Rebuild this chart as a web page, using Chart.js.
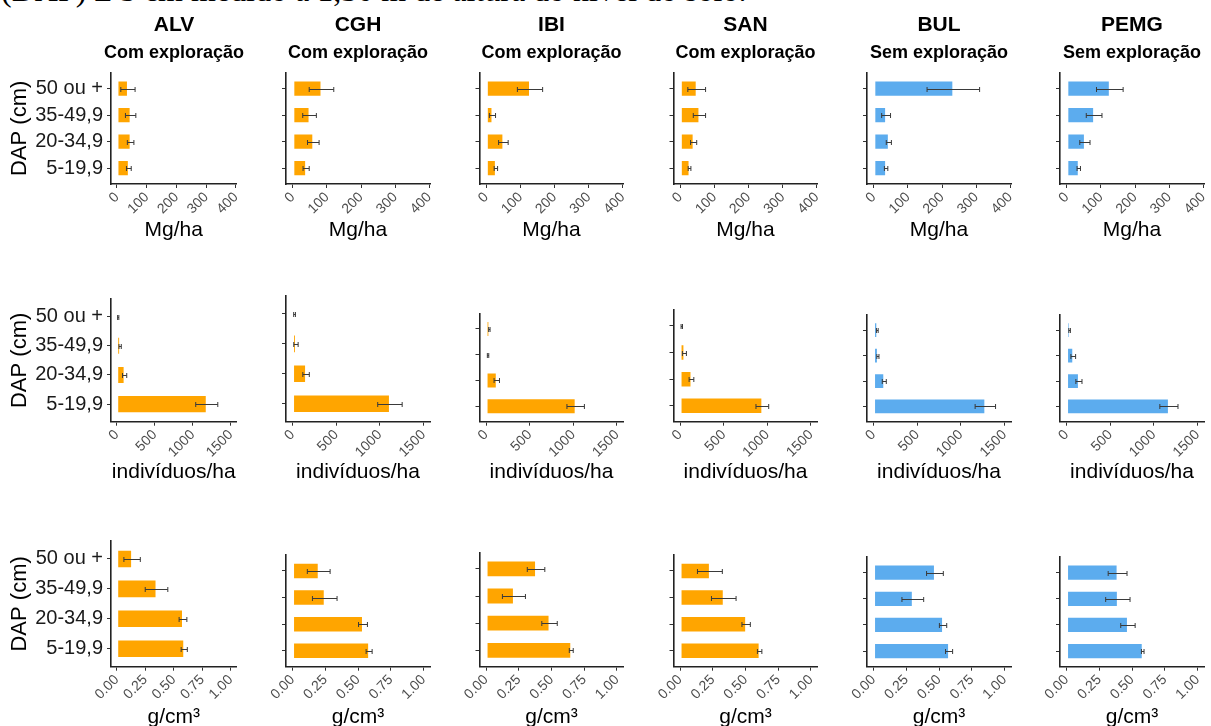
<!DOCTYPE html>
<html>
<head>
<meta charset="utf-8">
<script src="https://cdn.jsdelivr.net/npm/chart.js@4.4.1/dist/chart.umd.min.js"></script>
<style>
  html, body { margin: 0; padding: 0; background: #fff; }
  body { width: 1211px; height: 726px; position: relative; overflow: hidden; }
  #caption {
    position: absolute; left: 1px; top: -26px;
    font: 32px/32px "Liberation Serif", "Times New Roman", serif;
    color: #000; white-space: nowrap;
  }
  canvas { position: absolute; }
</style>
</head>
<body>
<div id="caption">(DAP) ≥ 5 cm medido a 1,30 m de altura do nível do solo.</div>
<script>
// Diameter classes (top to bottom) and study sites
const sizeClasses = ["50 ou +", "35-49,9", "20-34,9", "5-19,9"];
const sites = ["ALV", "CGH", "IBI", "SAN", "BUL", "PEMG"];
const management = ["Com exploração", "Com exploração", "Com exploração", "Com exploração", "Sem exploração", "Sem exploração"];

// Biomass (Mg/ha): mean and standard error per site, per diameter class
const biomassMean = [
  [37, 46, 46, 40],
  [84, 49, 60, 39],
  [128, 18, 50, 28],
  [48, 56, 39, 27],
  [233, 36, 44, 36],
  [126, 80, 53, 35]
];
const biomassSE = [
  [24, 17.5, 11, 8],
  [36, 20, 17, 9],
  [37, 9, 14, 5],
  [26, 18, 9, 4],
  [77, 13, 7.5, 5],
  [39, 23, 15, 5]
];

// Stem density (indivíduos/ha)
const densityMean = [
  [20, 45, 104, 1184],
  [23, 39, 155, 1116],
  [38, 23, 123, 1027],
  [20, 50, 131, 943],
  [43, 50, 123, 1281],
  [35, 77, 142, 1173]
];
const densitySE = [
  [8, 15, 28, 145],
  [10, 25, 37, 140],
  [8, 8, 31, 100],
  [8, 23, 27, 73],
  [10, 12, 23, 117],
  [9, 27, 35, 104]
];

// Wood density (g/cm³)
const woodMean = [
  [0.135, 0.349, 0.581, 0.592],
  [0.200, 0.246, 0.538, 0.585],
  [0.382, 0.213, 0.485, 0.651],
  [0.228, 0.334, 0.505, 0.608],
  [0.469, 0.300, 0.531, 0.577],
  [0.390, 0.392, 0.469, 0.582]
];
const woodSE = [
  [0.072, 0.099, 0.034, 0.027],
  [0.087, 0.094, 0.034, 0.023],
  [0.067, 0.088, 0.059, 0.015],
  [0.095, 0.094, 0.032, 0.017],
  [0.064, 0.083, 0.028, 0.027],
  [0.072, 0.093, 0.055, 0.010]
];

// Value-axis tick labels per row
const biomassTicks = ["0", "100", "200", "300", "400"];
const densityTicks = ["0", "500", "1000", "1500"];
const woodTicks = ["0.00", "0.25", "0.50", "0.75", "1.00"];
const unitLabels = ["Mg/ha", "indivíduos/ha", "g/cm³"];

// ---- rows of the figure ----
const rows = [
  { mean: biomassMean, se: biomassSE, ticks: biomassTicks, unit: unitLabels[0] },
  { mean: densityMean, se: densitySE, ticks: densityTicks, unit: unitLabels[1] },
  { mean: woodMean,    se: woodSE,    ticks: woodTicks,    unit: unitLabels[2] }
];

// ---- panel geometry (plot-area edges in page pixels) ----
const colLeft  = [111, 286, 479.5, 673.5, 867, 1060];
const colWidth = [125.5, 144, 144, 144, 144, 144];
const rowBottom = [184, 421.7, 666.7];
const rowTop = [
  [72.7, 72.7, 72.7, 72.7, 72.7, 72.7],
  [299, 296, 313.5, 310, 315, 315],
  [541, 555, 552.5, 555, 557, 557]
];
const rowRange = [[-20, 402], [-75, 1575], [-0.05, 1.05]];
const xTitleGap = [46.7, 51, 51];

const FONT = '"Liberation Sans", Arial, sans-serif';
const managedColor = '#FFA500';
const unmanagedColor = '#5CACEE';

// Draws mean ± SE whiskers on the horizontal bars
const errorBars = {
  id: 'errorBars',
  afterDatasetsDraw(chart) {
    const ds = chart.data.datasets[0];
    const meta = chart.getDatasetMeta(0);
    const xs = chart.scales.x;
    const ctx = chart.ctx;
    ctx.save();
    ctx.strokeStyle = '#3a3a3a';
    ctx.lineWidth = 1;
    meta.data.forEach((bar, i) => {
      const v = ds.data[i].x, e = ds.errors[i];
      const x0 = xs.getPixelForValue(v - e);
      const x1 = xs.getPixelForValue(v + e);
      const y = Math.round(bar.y) + 0.5;
      const h = 2.5;
      ctx.beginPath();
      ctx.moveTo(x0, y); ctx.lineTo(x1, y);
      ctx.moveTo(x0, y - h); ctx.lineTo(x0, y + h);
      ctx.moveTo(x1, y - h); ctx.lineTo(x1, y + h);
      ctx.stroke();
    });
    ctx.restore();
  }
};

function makePanel(r, c) {
  const row = rows[r];
  const L = colLeft[c], W = colWidth[c], T = rowTop[r][c], B = rowBottom[r];
  const left = c === 0 ? 0 : Math.floor(L - 45);
  const padL = L - left;
  const top = r === 0 ? 0 : Math.floor(T - 12);
  const padT = T - top;
  // canvas is symmetric around the plot area so full-width titles stay centred on it
  const width = Math.ceil(padL + W + padL);
  const padR = width - padL - W;
  const height = Math.round(B + xTitleGap[r] + 12.6 - top);
  const xHeight = top + height - B;

  const cv = document.createElement('canvas');
  cv.width = width; cv.height = height;
  cv.style.left = left + 'px'; cv.style.top = top + 'px';
  cv.style.width = width + 'px'; cv.style.height = height + 'px';
  document.body.appendChild(cv);

  const tickVals = row.ticks.map(t => parseFloat(t));
  const colour = management[c] === 'Sem exploração' ? unmanagedColor : managedColor;

  new Chart(cv, {
    type: 'bar',
    data: {
      datasets: [{
        data: sizeClasses.map((_, i) => ({ x: row.mean[c][i], y: i })),
        errors: row.se[c],
        backgroundColor: colour,
        borderColor: 'rgba(255,255,255,0.45)',
        borderWidth: 1,
        borderSkipped: false,
        categoryPercentage: 1,
        barPercentage: 0.62,
        xAxisID: 'x',
        yAxisID: 'y'
      }]
    },
    options: {
      indexAxis: 'y',
      responsive: false,
      animation: false,
      devicePixelRatio: 1,
      events: [],
      layout: { padding: { left: 0, top: r === 0 ? 0 : padT, right: 0, bottom: 0 } },
      plugins: {
        legend: { display: false },
        tooltip: { enabled: false },
        title: {
          display: r === 0,
          text: sites[c],
          fullSize: true,
          color: '#000',
          font: { family: FONT, size: 21, weight: 'bold', lineHeight: 1.2 },
          padding: { top: 12.4, bottom: 0 }
        },
        subtitle: {
          display: r === 0,
          text: management[c],
          fullSize: true,
          color: '#000',
          font: { family: FONT, size: 18, weight: 'bold', lineHeight: 1.2 },
          padding: { top: 4.6, bottom: 8.9 }
        }
      },
      scales: {
        x: {
          type: 'linear',
          position: 'bottom',
          offset: false,
          bounds: 'data',
          min: rowRange[r][0],
          max: rowRange[r][1],
          afterBuildTicks: s => { s.ticks = tickVals.map(v => ({ value: v })); },
          afterFit: s => { s.height = xHeight; s.paddingLeft = 0; s.paddingRight = 0; },
          border: { display: true, color: '#222', width: 1.6 },
          grid: { display: true, offset: false, drawOnChartArea: false, drawTicks: true, tickLength: 4, color: '#333', lineWidth: 1 },
          ticks: {
            autoSkip: false,
            minRotation: 45,
            maxRotation: 45,
            padding: 1,
            color: '#4D4D4D',
            font: { family: FONT, size: 14 },
            callback: (v, i) => row.ticks[i]
          },
          title: {
            display: true,
            text: row.unit,
            color: '#000',
            font: { family: FONT, size: 21, lineHeight: 1.2 },
            padding: { top: 0, bottom: 0 }
          }
        },
        y: {
          type: 'linear',
          position: 'left',
          offset: false,
          bounds: 'data',
          reverse: true,
          min: -0.6,
          max: 3.6,
          afterBuildTicks: s => { s.ticks = sizeClasses.map((_, i) => ({ value: i })); },
          afterFit: s => { s.width = padL; s.paddingTop = 0; s.paddingBottom = 0; },
          border: { display: true, color: '#222', width: 1.6 },
          grid: { display: true, offset: false, drawOnChartArea: false, drawTicks: true, tickLength: 4, color: '#333', lineWidth: 1 },
          ticks: {
            display: c === 0,
            autoSkip: false,
            padding: 4,
            color: '#1a1a1a',
            font: { family: FONT, size: 20 },
            callback: (v, i) => sizeClasses[i]
          },
          title: {
            display: c === 0,
            text: 'DAP (cm)',
            color: '#000',
            font: { family: FONT, size: 22, lineHeight: 1.2 },
            padding: { top: 6.8, bottom: 0 }
          }
        },
        // empty right-hand margin box, keeps the plot area in place
        margin: {
          axis: 'y',
          type: 'linear',
          position: 'right',
          display: true,
          afterFit: s => { s.width = padR; s.paddingTop = 0; s.paddingBottom = 0; },
          border: { display: false },
          grid: { display: false },
          ticks: { display: false },
          title: { display: false }
        }
      }
    },
    plugins: [errorBars]
  });
}

for (let r = 0; r < rows.length; r++) {
  for (let c = 0; c < sites.length; c++) makePanel(r, c);
}
</script>
</body>
</html>
